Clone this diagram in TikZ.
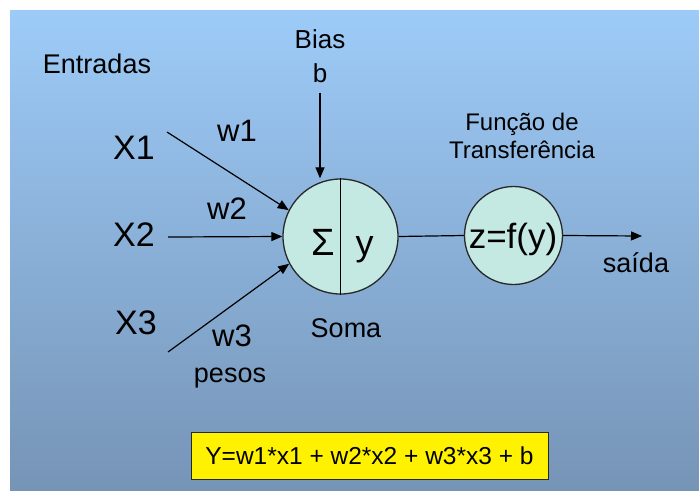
\documentclass[tikz,border=0pt]{standalone}
\usepackage{fontspec}
\setmainfont{Liberation Sans}
\usepackage{tikz}
\usetikzlibrary{arrows.meta, positioning, calc, shapes}
\definecolor{fundoTopo}{RGB}{157,203,248}
\definecolor{fundoBase}{RGB}{118,148,182}
\definecolor{celula}{RGB}{196,232,226}
\definecolor{contorno}{RGB}{40,40,40}
\tikzset{
  rotulo/.style={inner sep=0pt, font=\fontsize{27}{34}\selectfont},
  entrada/.style={inner sep=0pt, font=\fontsize{34}{38}\selectfont},
  peso/.style={inner sep=0pt, font=\fontsize{31}{36}\selectfont},
  neuronio/.style={circle, draw=contorno, line width=1.3pt, fill=celula, inner sep=0pt},
  seta/.style={-{Triangle[length=11pt,width=9pt]}, line width=1.2pt},
}

\begin{document}
\begin{tikzpicture}[x=1pt, y=-1pt]
\fill[white] (0,0) rectangle (699,491);
\useasboundingbox (0,0) rectangle (699,491);
\shade[top color=fundoTopo, bottom color=fundoBase] (10,10) rectangle (699,490);

\node[rotulo] (entradas) at (97,64) {Entradas};
\node[rotulo, align=center, font=\fontsize{26}{34}\selectfont] (bias) at (320,56) {Bias\\b};
\node[entrada] (x1) at (134,148) {X1};
\node[entrada] (x2) at (134,235) {X2};
\node[entrada] (x3) at (136,323) {X3};
\node[peso] (w1) at (237,131) {w1};
\node[peso] (w2) at (227,209) {w2};
\node[peso] (w3) at (232,336) {w3};
\node[rotulo] (pesos) at (230,378) {pesos};

\node[neuronio, minimum size=115pt] (soma) at (340.5,236.5) {};
\draw[line width=1pt] (soma.north) -- (soma.south);
\node[entrada, anchor=base, font=\fontsize{38}{40}\selectfont] (sigma) at (323,255) {Σ};
\node[entrada, anchor=base, font=\fontsize{36}{40}\selectfont] (y) at (364.5,255) {y};
\node[rotulo] (somaTxt) at (346,328) {Soma};

\node[neuronio, minimum size=98pt] (transf) at (513.5,235.5) {};
\node[entrada, font=\fontsize{35}{40}\selectfont] (fy) at (513,239) {z=f(y)};
\node[rotulo, align=center, font=\fontsize{24}{28}\selectfont] (ftit) at (522,136) {Função de\\Transferência};
\node[rotulo] (saida) at (636,263) {saída};

\coordinate (in1) at (167,132);
\coordinate (in2) at (168,237);
\coordinate (in3) at (168,352);
\coordinate (fim) at (642,236);

\draw[seta] (in1) -- (soma.153);
\draw[seta] (in2) -- (soma.west);
\draw[seta] (in3) -- (soma.208);
\draw[seta, shorten <=10pt] (bias.south) -- (bias.south |- soma.north);
\draw[line width=1.2pt] (soma.east) -- (transf.west);
\draw[seta] (transf.east) -- (fim);

\node[draw=contorno, fill=yellow, line width=1pt, minimum width=357pt, minimum height=47pt, font=\fontsize{24.5}{28}\selectfont] (eq) at (369.5,455.5) {Y=w1*x1 + w2*x2 + w3*x3 + b};
\end{tikzpicture}
\end{document}
